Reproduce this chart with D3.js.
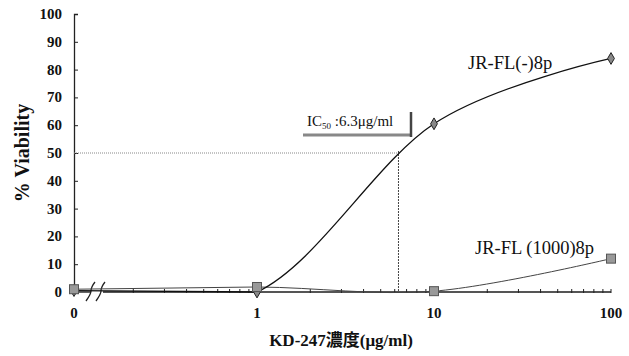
<!DOCTYPE html>
<html>
<head>
<meta charset="utf-8">
<script src="https://cdn.jsdelivr.net/npm/d3@7"></script>
<style>
  body { margin: 0; background: #fff; }
  text { font-family: "Liberation Serif", "Noto Sans CJK JP", serif; }
</style>
</head>
<body>
<div id="chart"></div>
<script>
// concentrations (0 sits at the axis origin, left of the axis break)
const doses = [0, 1, 10, 100];
const viabilityNeg = [0.5, 0, 60.5, 84];     // JR-FL(-)8p
const viability1000 = [1, 1.8, 0.3, 12];    // JR-FL (1000)8p
const yTicks = [0, 10, 20, 30, 40, 50, 60, 70, 80, 90, 100];
const xTickLabels = ["0", "1", "10", "100"];
const ic50 = 6.3;

const width = 629, height = 356;
const originX = 74;
const svg = d3.select("#chart").append("svg")
  .attr("width", width)
  .attr("height", height);

const x = d3.scaleLog().domain([1, 100]).range([257, 611]);
const y = d3.scaleLinear().domain([0, 100]).range([292, 14]);
const xPos = d => d === 0 ? originX : x(d);

// y axis
const yAxis = svg.append("g")
  .attr("transform", `translate(${originX},0)`)
  .call(d3.axisRight(y).tickValues(yTicks).tickSize(4).tickFormat(""));
yAxis.select(".domain").attr("stroke", "#222").attr("stroke-width", 1.3);
yAxis.selectAll(".tick line").attr("stroke", "#222");

svg.append("g").selectAll("text")
  .data(yTicks)
  .join("text")
  .attr("x", 62)
  .attr("y", d => y(d) + 5)
  .attr("text-anchor", "end")
  .attr("font-size", 15)
  .attr("font-weight", "bold")
  .attr("fill", "#111")
  .text(d => d);

svg.append("text")
  .attr("transform", `translate(29,${y(50)}) rotate(-90)`)
  .attr("text-anchor", "middle")
  .attr("font-size", 20)
  .attr("font-weight", "bold")
  .attr("fill", "#111")
  .text("% Viability");

// x axis with a break after 0
const y0 = y(0);
const brk = [91, 101];
svg.append("line")
  .attr("x1", originX).attr("x2", brk[0])
  .attr("y1", y0).attr("y2", y0)
  .attr("stroke", "#333").attr("stroke-width", 1.5);
svg.append("line")
  .attr("x1", brk[1] + 2).attr("x2", x(100))
  .attr("y1", y0).attr("y2", y0)
  .attr("stroke", "#555").attr("stroke-width", 2);

const minor = [];
[0.1, 1, 10].forEach(dec => {
  for (let k = 2; k <= 9; k++) minor.push(dec * k);
});
svg.append("g").selectAll("line")
  .data(minor.concat([1, 10, 100]))
  .join("line")
  .attr("x1", d => x(d)).attr("x2", d => x(d))
  .attr("y1", y0 - 3).attr("y2", y0 + 1)
  .attr("stroke", "#222").attr("stroke-width", 1);

svg.append("g").selectAll("path")
  .data(brk)
  .join("path")
  .attr("d", d => `M${d - 5},${y0 + 9} Q${d},${y0 + 2} ${d},${y0 - 1} Q${d},${y0 - 5} ${d + 4},${y0 - 10}`)
  .attr("fill", "none")
  .attr("stroke", "#222")
  .attr("stroke-width", 1.3);

svg.append("g").selectAll("text")
  .data(doses)
  .join("text")
  .attr("x", d => xPos(d))
  .attr("y", 318)
  .attr("text-anchor", "middle")
  .attr("font-size", 15)
  .attr("font-weight", "bold")
  .attr("fill", "#111")
  .text((d, i) => xTickLabels[i]);

svg.append("text")
  .attr("x", 341)
  .attr("y", 346)
  .attr("text-anchor", "middle")
  .attr("font-size", 17)
  .attr("font-weight", "bold")
  .attr("fill", "#111")
  .text("KD-247濃度(μg/ml)");

// IC50 guide lines
svg.append("line")
  .attr("x1", originX).attr("x2", x(ic50))
  .attr("y1", y(50)).attr("y2", y(50))
  .attr("stroke", "#888").attr("stroke-width", 1)
  .attr("stroke-dasharray", "1,1");
svg.append("line")
  .attr("x1", x(ic50)).attr("x2", x(ic50))
  .attr("y1", y(50) - 2).attr("y2", y0)
  .attr("stroke", "#444").attr("stroke-width", 1)
  .attr("stroke-dasharray", "2,1");

const lab = svg.append("text")
  .attr("x", 307)
  .attr("y", 126)
  .attr("font-size", 15)
  .attr("fill", "#111");
lab.append("tspan").text("IC");
lab.append("tspan").attr("font-size", 9).attr("dy", 3).text("50");
lab.append("tspan").attr("dy", -3).text(" :6.3μg/ml");
svg.append("line")
  .attr("x1", 303).attr("x2", 412)
  .attr("y1", 135).attr("y2", 135)
  .attr("stroke", "#888").attr("stroke-width", 3);
svg.append("line")
  .attr("x1", 411).attr("x2", 411)
  .attr("y1", 112).attr("y2", 137)
  .attr("stroke", "#444").attr("stroke-width", 2.5);

// series: straight across the break, smoothed (clipped) over the log part
svg.append("clipPath").attr("id", "logpart")
  .append("rect")
  .attr("x", x(1)).attr("y", 0)
  .attr("width", width - x(1)).attr("height", height);

const flat = d3.line()
  .x((d, i) => xPos(doses[i]))
  .y(d => y(d));
const smooth = d3.line()
  .x((d, i) => xPos(doses[i]))
  .y(d => y(d))
  .curve(d3.curveCardinal.tension(0));

function drawSeries(values, color, w) {
  svg.append("path")
    .datum(values.slice(0, 2))
    .attr("d", flat)
    .attr("fill", "none")
    .attr("stroke", color)
    .attr("stroke-width", w);
  svg.append("path")
    .datum(values)
    .attr("d", smooth)
    .attr("clip-path", "url(#logpart)")
    .attr("fill", "none")
    .attr("stroke", color)
    .attr("stroke-width", w);
}
drawSeries(viability1000, "#444", 1);
drawSeries(viabilityNeg, "#111", 1.3);

svg.append("g").selectAll("path")
  .data(viabilityNeg)
  .join("path")
  .attr("d", d3.symbol(d3.symbolDiamond, 40))
  .attr("transform", (d, i) => `translate(${xPos(doses[i])},${y(d)})`)
  .attr("fill", "#888")
  .attr("stroke", "#222")
  .attr("stroke-width", 1);

svg.append("g").selectAll("rect")
  .data(viability1000)
  .join("rect")
  .attr("x", (d, i) => xPos(doses[i]) - 4.5)
  .attr("y", d => y(d) - 4.5)
  .attr("width", 9)
  .attr("height", 9)
  .attr("fill", "#999")
  .attr("stroke", "#555")
  .attr("stroke-width", 1);

svg.append("text")
  .attr("x", 468).attr("y", 69)
  .attr("font-size", 18.5)
  .attr("fill", "#111")
  .text("JR-FL(-)8p");
svg.append("text")
  .attr("x", 475).attr("y", 254)
  .attr("font-size", 18.5)
  .attr("fill", "#111")
  .text("JR-FL (1000)8p");
</script>
</body>
</html>
